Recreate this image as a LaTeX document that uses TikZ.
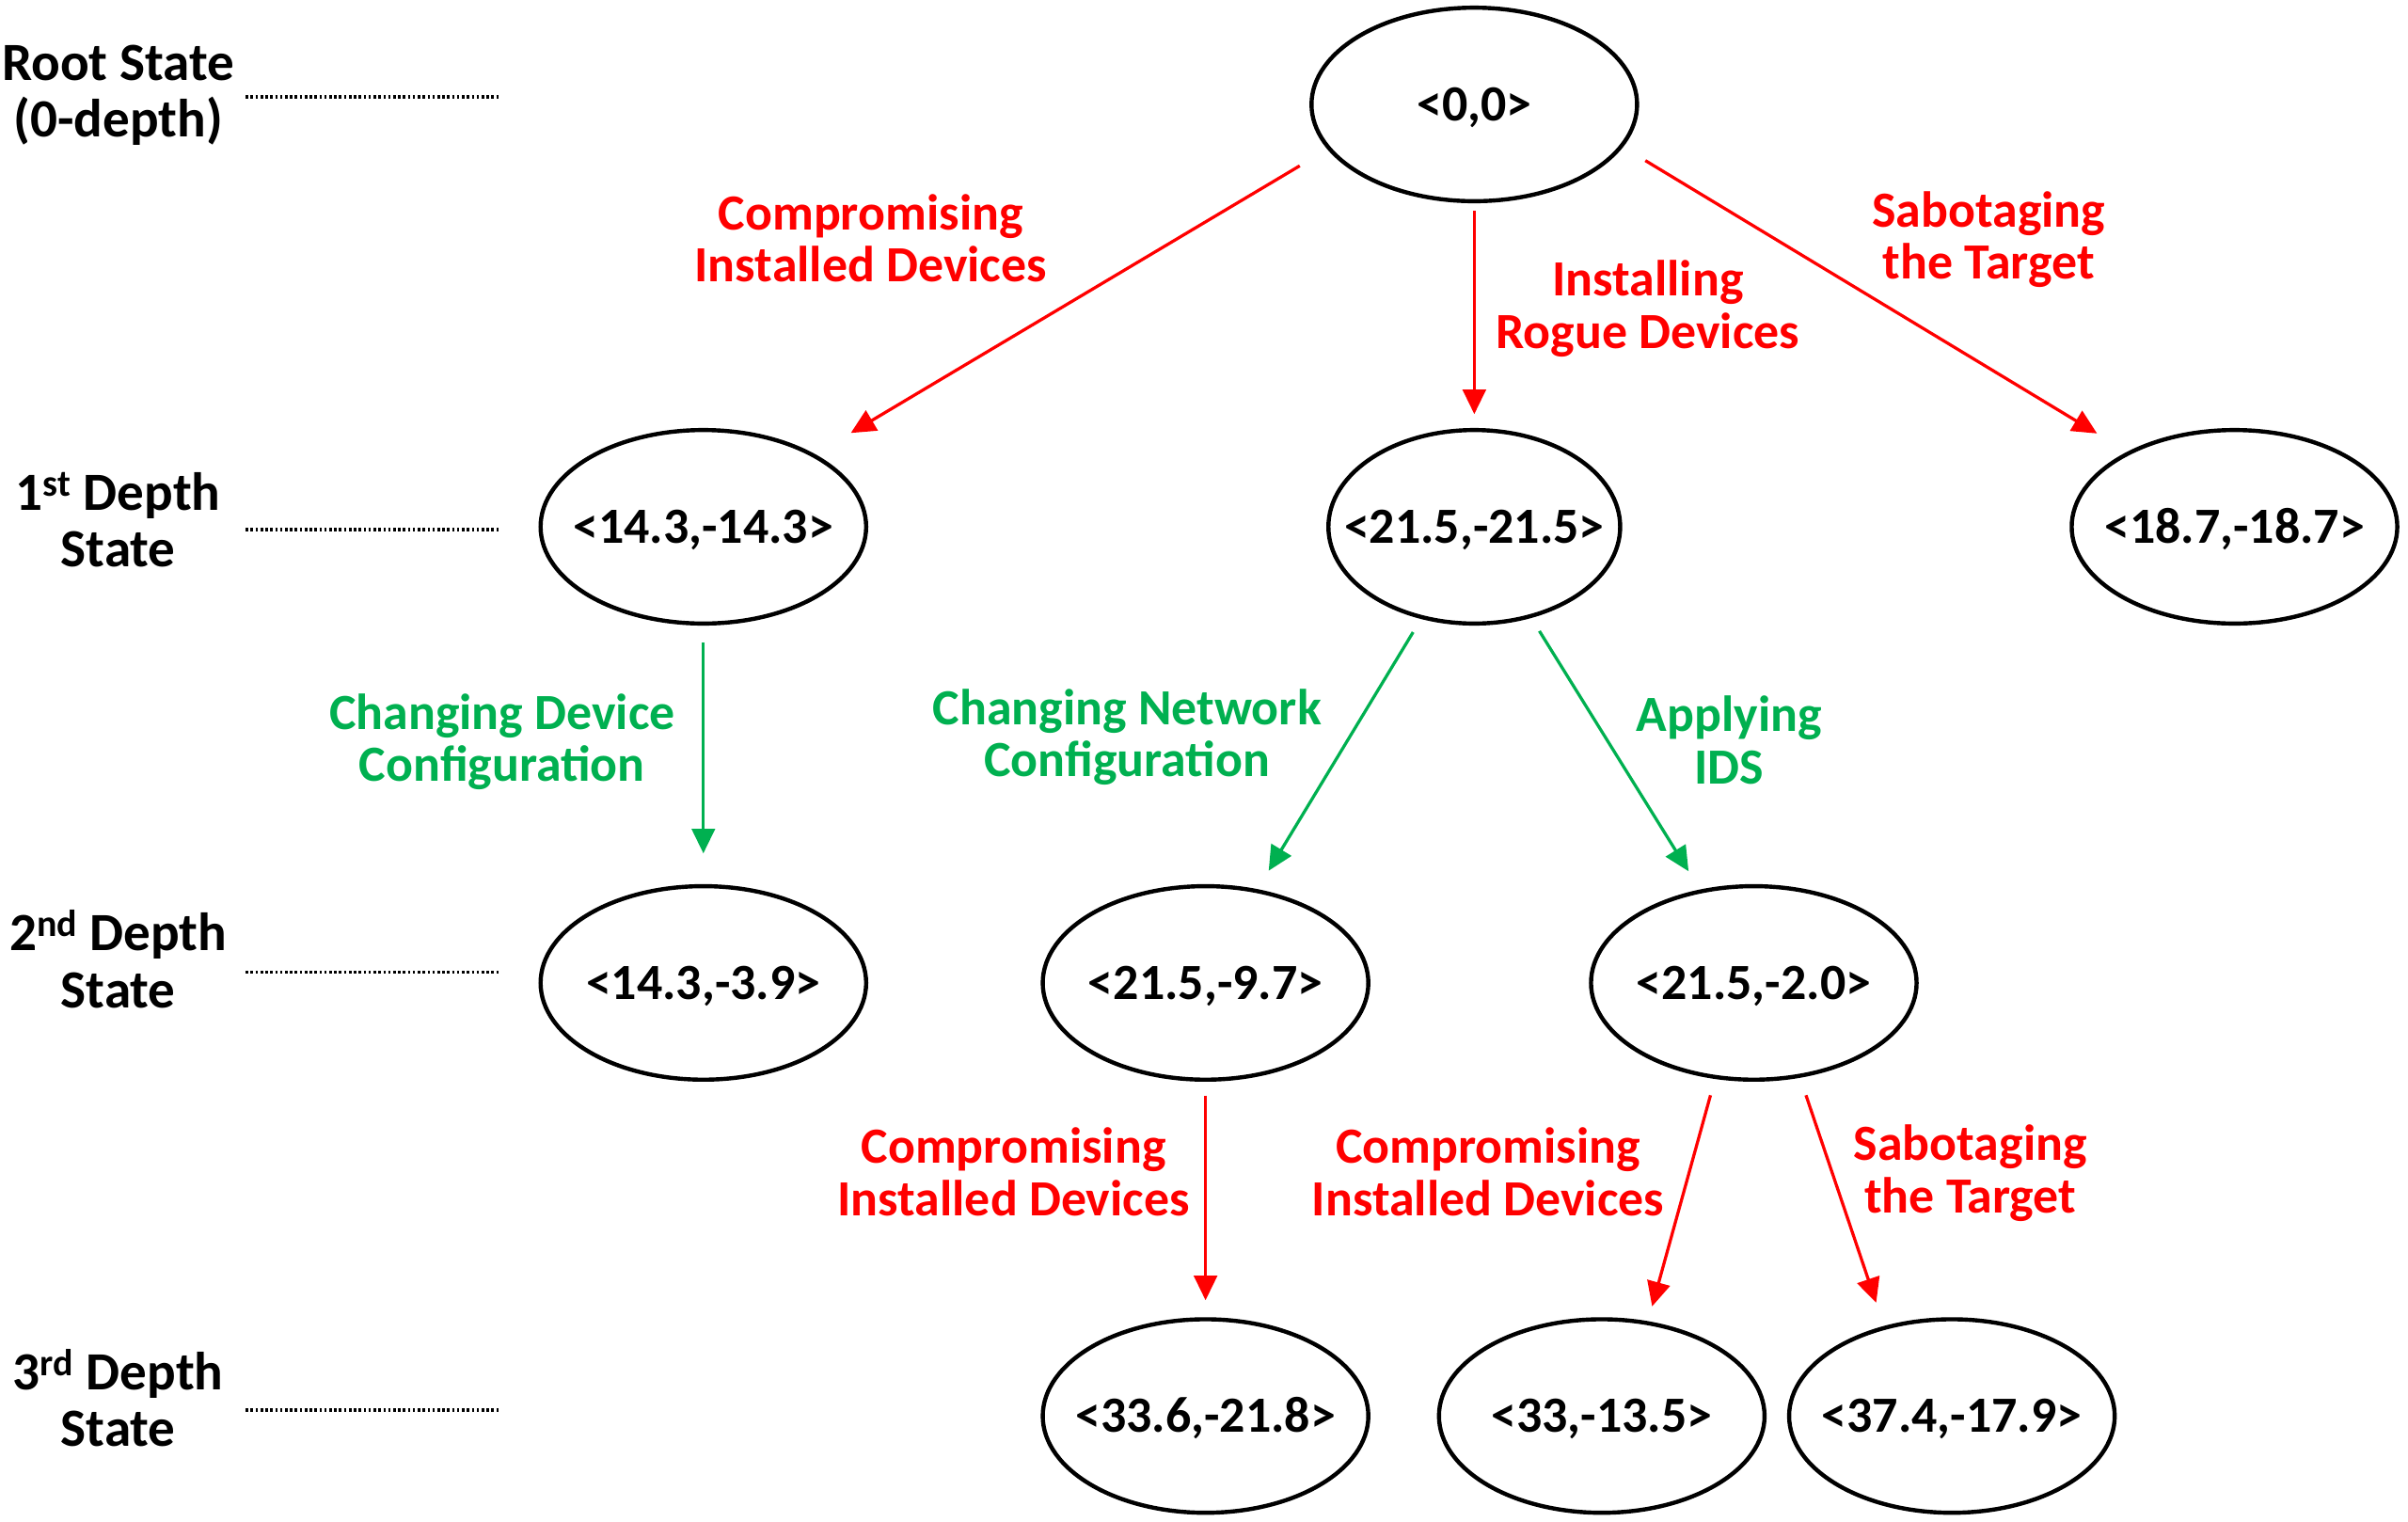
\documentclass[tikz,border=0pt]{standalone}
\usepackage{fontspec}
\setmainfont{Carlito}
\usetikzlibrary{arrows.meta,shapes.geometric}
\definecolor{myred}{RGB}{255,0,0}
\definecolor{mygreen}{RGB}{0,176,80}
\newcommand\ctext[1]{\makebox[0pt]{\raisebox{-10.5pt}[0pt][0pt]{#1}}}
\begin{document}
\begin{tikzpicture}[x=1pt,y=-1pt,
  every node/.style={font=\fontsize{33}{34}\selectfont\bfseries},
  st/.style={ellipse,draw,line width=2.7pt,minimum width=212pt,minimum height=126pt,inner sep=0pt},
  lvl/.style={align=center,font=\fontsize{35}{37}\selectfont\bfseries},
  act/.style={align=center},
  dotline/.style={line width=2.2pt,dash pattern=on 1.6pt off 1.6pt},
  redarr/.style={draw=myred,line width=2pt,-{Triangle[length=16pt,width=15pt]}},
  grnarr/.style={draw=mygreen,line width=2pt,-{Triangle[length=16pt,width=15pt]}}
]
\useasboundingbox (0,0) rectangle (1568,991);
% level labels
\node[lvl] (L0) at (77,62) {Root State\\(0-depth)};
\node[lvl] (L1) at (77,338.5) {1\textsuperscript{st} Depth\\State};
\node[lvl] (L2) at (77,624.5) {2\textsuperscript{nd} Depth\\State};
\node[lvl] (L3) at (77,910.5) {3\textsuperscript{rd} Depth\\State};
\coordinate (D0a) at (160,63);  \coordinate (D0b) at (326,63);
\coordinate (D1a) at (160,345); \coordinate (D1b) at (326,345);
\coordinate (D2a) at (160,633); \coordinate (D2b) at (326,633);
\coordinate (D3a) at (160,918); \coordinate (D3b) at (326,918);
\draw[dotline] (D0a) -- (D0b);
\draw[dotline] (D1a) -- (D1b);
\draw[dotline] (D2a) -- (D2b);
\draw[dotline] (D3a) -- (D3b);
% states
\node[st] (r) at (960,68) {\ctext{<0,0>}};
\node[st] (a) at (458,343) {\ctext{<14.3,-14.3>}};
\node[st,minimum width=190pt] (b) at (960,343) {\ctext{<21.5,-21.5>}};
\node[st] (c) at (1455,343) {\ctext{<18.7,-18.7>}};
\node[st] (d) at (458,640) {\ctext{<14.3,-3.9>}};
\node[st] (e) at (785,640) {\ctext{<21.5,-9.7>}};
\node[st] (f) at (1142,640) {\ctext{<21.5,-2.0>}};
\node[st] (g) at (785,922) {\ctext{<33.6,-21.8>}};
\node[st] (h) at (1043,922) {\ctext{<33,-13.5>}};
\node[st] (i) at (1271,922) {\ctext{<37.4,-17.9>}};
% arrows
\draw[redarr, shorten <=21pt, shorten >=27pt] (r.197) -- (a.33);
\draw[redarr, shorten <=5pt, shorten >=9pt] (r.south) -- (b.north);
\draw[redarr, shorten <=17pt, shorten >=23pt] (r.344) -- (c.145);
\draw[grnarr, shorten <=11pt, shorten >=20pt] (a.south) -- (d.north);
\draw[grnarr, shorten <=10pt, shorten >=14pt] (b.240) -- (e.61);
\draw[grnarr, shorten <=10pt, shorten >=14pt] (b.302) -- (f.120);
\draw[redarr, shorten <=9pt, shorten >=11pt] (e.south) -- (g.north);
\draw[redarr, shorten <=11pt, shorten >=10pt] (f.248) -- (h.64);
\draw[redarr, shorten <=12pt, shorten >=16pt] (f.296) -- (i.127);
% action labels
\node[act,text=myred] (l1) at (567,155) {Compromising\\Installed Devices};
\node[act,text=myred] (l2) at (1073,201) {Installing\\Rogue Devices};
\node[act,text=myred] (l3) at (1295,156) {Sabotaging\\the Target};
\node[act,text=mygreen] (l4) at (327,483) {Changing Device\\Configuration};
\node[act,text=mygreen] (l5) at (734,480) {Changing Network\\Configuration};
\node[act,text=mygreen] (l6) at (1126,482) {Applying\\IDS};
\node[act,text=myred] (l7) at (660,763) {Compromising\\Installed Devices};
\node[act,text=myred] (l8) at (969,763) {Compromising\\Installed Devices};
\node[act,text=myred] (l9) at (1283,764) {Sabotaging\\the Target};
\end{tikzpicture}
\end{document}
